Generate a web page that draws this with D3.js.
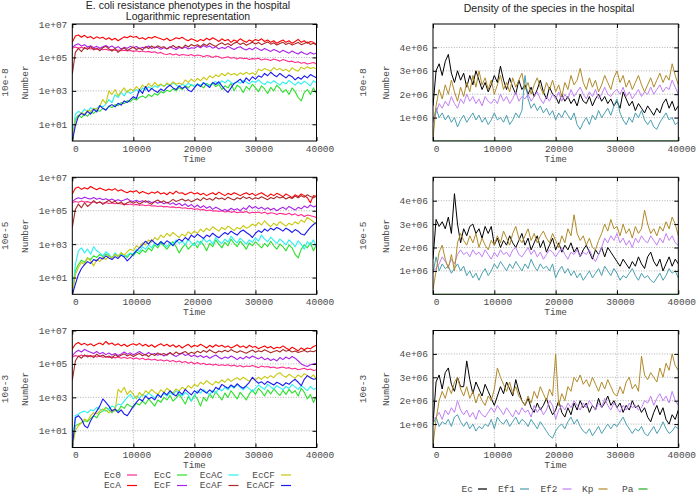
<!DOCTYPE html>
<html><head><meta charset="utf-8">
<script src="https://cdn.jsdelivr.net/npm/d3@7"></script>
<style>body{margin:0;background:#fff}svg{display:block}</style>
</head><body><svg id="c" width="696" height="494"></svg>
<script>
const time=[0,500,1000,1500,2000,2500,3000,3500,4000,4500,5000,5500,6000,6500,7000,7500,8000,8500,9000,9500,
10000,10500,11000,11500,12000,12500,13000,13500,14000,14500,15000,15500,16000,16500,17000,17500,18000,18500,19000,19500,
20000,20500,21000,21500,22000,22500,23000,23500,24000,24500,25000,25500,26000,26500,27000,27500,28000,28500,29000,29500,
30000,30500,31000,31500,32000,32500,33000,33500,34000,34500,35000,35500,36000,36500,37000,37500,38000,38500,39000,39500,40000];

const xTickVals=[0,10000,20000,30000,40000];
const xTickLabels=['0','10000','20000','30000','40000'];
const logTickVals=[1e1,1e3,1e5,1e7];
const logTickLabels=['1e+01','1e+03','1e+05','1e+07'];
const linTickVals=[1e6,2e6,3e6,4e6];
const linTickLabels=['1e+06','2e+06','3e+06','4e+06'];
const rowLabels=['10e-8','10e-5','10e-3'];
const leftNames=['Ec0','EcA','EcC','EcF','EcAC','EcAF','EcCF','EcACF'];
const leftColors=['#ff2a8c','#ff0000','#2be02b','#a822e8','#2af0f0','#a82a2a','#c8c810','#1a1af0'];
const rightNames=['Ec','Ef1','Ef2','Kp','Pa'];
const rightColors=['#000000','#4a9fb0','#c27ff5','#b08a2a','#22aa22'];

// ---------- 10e-8 : E. coli phenotypes ----------
const ec0_8=[3.5e5,4.2e5,3.6e5,4.0e5,3.3e5,3.8e5,3.2e5,3.5e5,3.0e5,3.3e5,
2.9e5,3.1e5,2.7e5,3.0e5,2.6e5,2.8e5,2.5e5,2.7e5,2.4e5,2.6e5,
2.3e5,2.5e5,2.2e5,2.4e5,2.1e5,2.3e5,2.0e5,2.2e5,1.8e5,2.0e5,
1.6e5,1.5e5,1.7e5,1.4e5,1.6e5,1.3e5,1.5e5,1.4e5,1.3e5,1.5e5,
1.2e5,1.4e5,1.3e5,1.1e5,1.3e5,1.2e5,1.0e5,1.2e5,1.1e5,9e4,
1.0e5,1.1e5,9e4,1.0e5,8e4,9.5e4,8.5e4,9e4,7.5e4,8.5e4,
8e4,9e4,7e4,8e4,7.5e4,6.5e4,8e4,7e4,6e4,7.5e4,
6.5e4,5.5e4,6e4,5e4,5.5e4,4.5e4,5e4,4e4,4.5e4,5e4,
4e4];
const ecA_8=[8e5,1.9e6,2.2e6,1.6e6,2.1e6,1.5e6,1.8e6,1.3e6,1.7e6,1.4e6,
1.6e6,1.2e6,1.5e6,1.1e6,1.4e6,1.0e6,1.3e6,1.7e6,1.5e6,1.9e6,
1.6e6,1.8e6,1.3e6,1.5e6,1.2e6,1.6e6,1.4e6,1.8e6,1.5e6,1.3e6,
1.1e6,1.4e6,1.0e6,1.2e6,1.5e6,1.3e6,1.6e6,1.2e6,1.0e6,1.3e6,
1.1e6,9e5,1.2e6,1.0e6,1.4e6,1.1e6,1.5e6,1.2e6,9e5,1.3e6,
1.0e6,1.2e6,8e5,1.1e6,9e5,1.3e6,1.0e6,8e5,1.1e6,9e5,
1.2e6,1.0e6,1.3e6,9e5,1.1e6,8e5,1.0e6,7e5,9e5,1.1e6,
8e5,1.0e6,7e5,9e5,1.2e6,8e5,1.0e6,7e5,9e5,8e5,
6e5];
const ecC_8=[1,20,35,25,40,30,55,45,70,60,
90,75,120,100,150,130,200,170,260,220,
350,280,420,500,380,600,450,700,550,900,
750,1100,900,1300,1000,1600,1200,2000,1500,2400,
1800,2600,2000,1500,2800,2200,3000,1800,2500,1200,
2000,1500,2800,1000,2200,1600,800,1800,1200,2500,
1500,900,2000,1300,700,1600,1000,2200,1400,800,
1200,600,1500,900,400,250,800,1200,600,1500,
700];
const ecF_8=[4.0e5,5.5e5,6.5e5,4.8e5,5.8e5,4.2e5,5.0e5,3.8e5,4.6e5,3.5e5,
4.3e5,5.2e5,3.9e5,4.8e5,3.6e5,4.4e5,3.2e5,4.0e5,3.5e5,4.6e5,
3.8e5,4.5e5,3.3e5,4.1e5,3.7e5,4.8e5,3.4e5,4.2e5,3.9e5,3.1e5,
3.8e5,3.3e5,4.4e5,3.6e5,3.0e5,3.9e5,3.4e5,4.2e5,3.2e5,3.8e5,
3.5e5,4.6e5,3.8e5,5.2e5,4.0e5,4.8e5,3.6e5,4.4e5,3.2e5,4.0e5,
3.4e5,4.6e5,3.7e5,3.0e5,3.8e5,4.4e5,3.3e5,2.8e5,3.5e5,2.9e5,
4.0e5,3.2e5,2.6e5,3.4e5,2.8e5,2.3e5,3.0e5,2.5e5,2.0e5,2.7e5,
2.2e5,1.8e5,2.4e5,1.9e5,1.6e5,2.2e5,1.7e5,1.5e5,2.0e5,1.6e5,
1.8e5];
const ecAC_8=[1,40,60,45,80,55,100,70,90,130,
110,160,300,200,600,400,800,500,1000,700,
900,1200,800,1500,1100,1800,1300,2000,1600,2400,
1900,2600,2000,3000,2200,1700,2500,2000,2800,2300,
1800,2600,2100,3200,2400,1900,2800,3600,2500,4000,
3000,4500,3200,2500,3800,2800,4200,3400,2600,3800,
3200,4600,3000,2400,3600,2800,4000,3000,2200,3400,
2600,4200,3000,2200,3400,2500,3800,2800,2000,4000,
3000];
const ecAF_8=[1e4,2.0e5,3.5e5,2.2e5,4.0e5,3.0e5,4.5e5,2.8e5,3.6e5,2.5e5,
3.8e5,4.6e5,3.2e5,2.4e5,3.5e5,2.0e5,2.9e5,3.8e5,2.6e5,3.3e5,
4.2e5,3.0e5,3.7e5,2.8e5,4.5e5,3.4e5,4.8e5,3.6e5,5.0e5,3.9e5,
4.4e5,3.2e5,4.0e5,5.2e5,3.8e5,4.6e5,3.5e5,5.5e5,4.2e5,6.0e5,
4.8e5,5.8e5,4.4e5,6.5e5,5.0e5,7.0e5,5.5e5,4.5e5,6.2e5,7.5e5,
5.6e5,6.8e5,5.2e5,7.2e5,8.0e5,6.0e5,7.4e5,5.4e5,6.6e5,8.2e5,
6.4e5,7.8e5,5.8e5,7.0e5,8.5e5,6.2e5,7.6e5,5.5e5,6.8e5,8.0e5,
6.0e5,7.2e5,5.6e5,6.5e5,7.8e5,5.8e5,6.9e5,8.4e5,6.0e5,7.0e5,
5.5e5];
const ecCF_8=[1,15,30,50,40,70,60,90,80,120,
300,180,1000,600,1200,500,900,1500,800,1300,
1000,1800,1200,2200,1500,2800,1800,3200,2000,2600,
1800,3000,2200,3500,2500,3000,2400,4500,3200,5000,
3500,5500,4000,6500,4500,8000,6000,9000,7000,1.1e4,
8000,1.2e4,9000,1.1e4,8500,1.2e4,9500,1.3e4,1e4,1.2e4,
9000,2e4,1.6e4,2.2e4,1.8e4,1.5e4,2.5e4,1.8e4,2.2e4,1.6e4,
2e4,1.4e4,2.4e4,1.8e4,1.5e4,2.6e4,2e4,2.8e4,2.2e4,2.5e4,
2e4];
const ecACF_8=[1,8,30,45,35,60,40,80,55,130,
90,70,120,150,110,180,140,250,200,300,
450,350,1200,700,1800,900,1400,1000,800,1300,
1000,1600,2200,1500,1200,2000,1400,1800,1100,900,
1500,2500,1800,3000,2200,1600,3200,2400,3500,2000,
1200,800,1500,2800,3500,5000,3000,6000,4000,7000,
5000,8000,6500,1.1e4,8000,1.3e4,9000,7000,1.1e4,8000,
6000,9000,7000,4500,6500,5000,8000,6000,9500,7500,
6000];

// ---------- 10e-5 : E. coli phenotypes ----------
const ec0_5=[3.0e5,3.6e5,3.2e5,3.8e5,3.3e5,3.5e5,3.0e5,3.4e5,2.9e5,3.2e5,
2.8e5,3.1e5,2.7e5,2.9e5,2.6e5,2.8e5,2.5e5,2.6e5,2.3e5,2.5e5,
2.2e5,2.4e5,2.1e5,2.3e5,2.0e5,2.2e5,1.9e5,2.0e5,1.8e5,1.9e5,
1.7e5,1.8e5,1.6e5,1.7e5,1.5e5,1.6e5,1.4e5,1.5e5,1.3e5,1.4e5,
1.2e5,1.3e5,1.1e5,1.2e5,1.0e5,1.1e5,9.5e4,1.0e5,9e4,1.0e5,
8.5e4,9.5e4,8e4,9e4,7.5e4,8.5e4,8e4,9e4,7e4,8e4,
7.5e4,8.5e4,7e4,8e4,6.5e4,7.5e4,7e4,6e4,7e4,6.5e4,
6e4,7e4,5.5e4,6.5e4,5e4,6e4,4.5e4,5.5e4,5e4,4.5e4,
4e4];
const ecA_5=[1.0e6,2.2e6,2.6e6,1.9e6,2.4e6,2.0e6,2.8e6,2.2e6,1.8e6,2.3e6,
1.9e6,1.6e6,2.0e6,1.7e6,2.1e6,1.5e6,1.8e6,1.4e6,1.2e6,1.5e6,
1.3e6,1.6e6,1.1e6,1.4e6,1.2e6,1.0e6,1.3e6,1.1e6,1.4e6,1.0e6,
1.2e6,9e5,1.3e6,1.0e6,1.5e6,1.1e6,1.2e6,9e5,1.1e6,1.3e6,
1.0e6,1.2e6,9e5,1.1e6,8e5,1.0e6,1.2e6,9e5,1.3e6,1.0e6,
8e5,1.1e6,9e5,1.2e6,1.0e6,8e5,1.0e6,1.2e6,9e5,1.1e6,
8e5,1.0e6,1.2e6,9e5,7e5,1.0e6,8e5,1.1e6,9e5,7e5,
1.0e6,8e5,6e5,9e5,7e5,1.0e6,8e5,6e5,3e5,8e5,
7e5];
const ecC_5=[1,25,60,110,80,150,120,200,160,240,
180,260,200,150,250,180,300,220,160,280,
200,350,260,450,320,600,400,900,600,1200,
800,500,900,1400,700,300,600,1000,500,800,
1200,600,1500,900,400,1100,700,1800,1000,600,
1300,800,2000,1100,700,1500,900,500,1200,800,
1400,900,600,1100,700,1500,800,500,1000,700,
400,900,600,250,150,500,900,600,1200,400,
900];
const ecF_5=[3.5e5,5.0e5,6.0e5,5.2e5,6.5e5,5.5e5,5.0e5,6.2e5,4.8e5,5.6e5,
4.5e5,5.2e5,4.2e5,5.0e5,4.0e5,4.6e5,3.8e5,4.4e5,5.2e5,4.0e5,
3.6e5,4.2e5,3.4e5,4.0e5,3.2e5,3.8e5,3.0e5,3.6e5,2.8e5,3.4e5,
2.6e5,3.2e5,2.4e5,3.0e5,2.2e5,2.8e5,2.0e5,2.6e5,1.8e5,2.4e5,
1.6e5,2.2e5,1.5e5,2.0e5,1.4e5,1.8e5,1.2e5,1.6e5,1.3e5,1.0e5,
1.2e5,1.0e5,1.4e5,1.1e5,1.3e5,1.0e5,1.5e5,1.2e5,2.0e5,1.4e5,
1.8e5,1.3e5,1.6e5,1.2e5,1.5e5,1.1e5,1.4e5,1.0e5,1.3e5,1.6e5,
1.2e5,1.8e5,1.4e5,1.1e5,1.6e5,1.3e5,1.9e5,1.5e5,2.2e5,1.7e5,
2.0e5];
const ecAC_5=[1,60,400,600,300,500,250,700,400,300,
200,350,250,150,300,200,250,180,220,300,
250,500,350,700,500,900,600,1200,800,1500,
1000,700,1300,900,1800,1100,1500,900,2000,1200,
800,1600,1000,2200,1300,1800,1000,2500,1500,1100,
2000,1300,3000,1800,1200,2200,1500,1000,1800,1300,
2400,1500,3500,2000,1400,2600,1700,1100,2000,1400,
900,1800,1200,700,1600,1000,500,1400,900,1800,
600];
const ecAF_5=[1e4,1.2e5,2.5e5,1.5e5,3.0e5,1.8e5,2.6e5,4.0e5,2.8e5,3.5e5,
2.4e5,3.2e5,4.2e5,3.0e5,3.8e5,2.6e5,3.4e5,2.2e5,3.0e5,3.6e5,
2.8e5,3.5e5,2.5e5,3.2e5,4.0e5,3.0e5,2.4e5,3.6e5,4.4e5,3.2e5,
3.9e5,2.9e5,3.5e5,4.8e5,3.6e5,4.2e5,5.0e5,3.8e5,4.6e5,3.4e5,
4.2e5,5.2e5,4.0e5,6.0e5,4.6e5,5.4e5,4.2e5,6.2e5,5.0e5,5.8e5,
4.6e5,6.5e5,5.2e5,4.4e5,6.0e5,5.0e5,7.0e5,5.4e5,6.4e5,4.8e5,
6.0e5,5.2e5,6.8e5,5.5e5,4.6e5,6.2e5,5.2e5,7.2e5,5.8e5,6.6e5,
5.0e5,6.4e5,5.4e5,7.5e5,6.0e5,8.0e5,6.5e5,9.0e5,7.0e5,6.0e5,
7.5e5];
const ecCF_5=[1,15,40,80,60,150,100,50,120,90,
160,120,200,150,250,180,300,220,350,500,
400,800,600,1200,900,1800,1300,2500,1800,3500,
2500,4500,3000,5000,3500,2500,4000,3000,5500,4000,
6000,4500,8000,5500,9000,6500,1.1e4,8000,6000,1e4,
7500,1.2e4,9000,6500,1e4,8000,1.3e4,9000,1.1e4,1.6e4,
1.2e4,2e4,1.4e4,2.5e4,1.6e4,1.1e4,1.8e4,1.3e4,2.2e4,1.6e4,
1.2e4,1.8e4,1.4e4,2.2e4,1.6e4,2.8e4,2e4,4e4,3e4,2.2e4,
1.5e4];
const ecACF_5=[1,4,15,35,60,90,70,120,100,160,
130,200,150,120,180,140,220,170,100,150,
250,400,600,900,1500,1000,1800,1200,900,1400,
1000,1600,1200,800,1400,2000,1500,2500,1800,3500,
2500,4000,3000,2200,3500,2800,4500,3200,2400,3600,
5000,3800,6000,4500,3500,5500,7000,5000,3800,2500,
4500,6500,5000,8000,6000,9000,7000,1e4,8000,6000,
9000,7000,5000,7500,6000,4000,3500,6000,1e4,1.5e4,
2e4];

// ---------- 10e-3 : E. coli phenotypes ----------
const ec0_3=[2.5e5,3.2e5,2.8e5,3.4e5,2.9e5,3.3e5,2.7e5,3.1e5,2.6e5,3.0e5,
2.5e5,2.8e5,2.4e5,2.7e5,2.3e5,2.6e5,2.2e5,2.5e5,2.1e5,2.4e5,
2.0e5,2.3e5,1.9e5,2.2e5,1.8e5,2.0e5,1.7e5,1.9e5,1.6e5,1.8e5,
1.5e5,1.7e5,1.4e5,1.6e5,1.3e5,1.5e5,1.2e5,1.4e5,1.1e5,1.3e5,
1.0e5,1.2e5,9.5e4,1.1e5,9e4,1.0e5,8.5e4,9.5e4,8e4,9e4,
8e4,9e4,7.5e4,8.5e4,7e4,8e4,6.5e4,7.5e4,7e4,8e4,
7e4,6e4,7.5e4,6.5e4,7e4,6e4,6.5e4,5.5e4,6e4,6.5e4,
5.5e4,6e4,5e4,5.5e4,4.5e4,5e4,5.5e4,4.5e4,5e4,4e4,
4.5e4];
const ecA_3=[8e5,1.5e6,1.9e6,1.4e6,1.7e6,1.3e6,1.6e6,1.2e6,1.5e6,1.8e6,
1.4e6,2.2e6,1.5e6,1.8e6,1.3e6,1.6e6,1.2e6,1.5e6,1.1e6,1.4e6,
1.6e6,1.3e6,1.7e6,1.2e6,1.5e6,1.1e6,1.4e6,1.0e6,1.3e6,1.6e6,
1.2e6,1.5e6,1.1e6,1.4e6,1.0e6,1.3e6,9e5,1.2e6,1.5e6,1.0e6,
1.3e6,1.1e6,1.5e6,1.2e6,9e5,1.3e6,1.0e6,1.4e6,1.1e6,1.3e6,
1.0e6,1.2e6,9e5,1.1e6,1.4e6,1.0e6,1.2e6,9e5,1.3e6,1.0e6,
1.1e6,8e5,1.0e6,1.2e6,9e5,1.1e6,8e5,1.0e6,9e5,1.2e6,
9e5,7e5,1.0e6,8e5,6e5,9e5,7e5,9e5,8e5,1.1e6,
1.3e6];
const ecC_3=[1,20,25,30,40,35,55,80,60,120,
150,250,180,120,200,150,300,220,400,300,
250,450,350,600,400,800,500,300,700,500,
1000,700,1300,600,900,1500,800,400,1100,600,
1400,800,300,1000,600,1600,900,2200,1200,700,
1800,1000,2500,1400,800,2000,1200,700,1600,2800,
1500,3500,2200,1200,2800,1600,3200,2000,1300,2600,
1500,3000,1800,2500,1200,3500,2000,800,1500,500,
1200];
const ecF_3=[3.0e5,5.0e5,6.5e5,5.2e5,7.5e5,6.0e5,5.0e5,4.2e5,5.5e5,4.0e5,
4.8e5,3.6e5,4.5e5,3.4e5,4.2e5,3.2e5,4.0e5,5.2e5,3.8e5,4.6e5,
3.5e5,4.4e5,5.5e5,4.2e5,3.4e5,4.8e5,3.6e5,4.2e5,3.3e5,4.0e5,
3.0e5,3.8e5,4.6e5,3.4e5,2.8e5,3.6e5,4.4e5,3.2e5,3.8e5,2.8e5,
3.4e5,2.6e5,3.2e5,2.4e5,3.0e5,2.2e5,2.8e5,3.4e5,2.5e5,2.0e5,
2.6e5,2.2e5,3.0e5,2.4e5,1.8e5,2.5e5,2.0e5,2.8e5,2.2e5,3.0e5,
2.4e5,2.0e5,2.6e5,1.8e5,2.2e5,1.6e5,2.0e5,1.5e5,2.4e5,1.8e5,
2.6e5,2.0e5,2.8e5,2.2e5,1.5e5,1.0e5,8e4,7e4,9e4,1.0e5,
1.1e5];
const ecAC_3=[1,80,100,130,150,120,180,160,250,200,
180,150,200,300,250,400,350,600,1000,1500,
800,1200,900,1500,1100,1800,1300,900,1500,1100,
1700,1200,2000,1400,2500,1600,1200,2000,1400,600,
1200,2500,1800,3000,2000,1400,2600,1800,3500,2400,
4000,2800,5000,3500,6000,4000,2800,4500,3200,2200,
3500,5500,4000,3000,6000,4200,3200,5000,3800,2800,
4500,3400,6000,4200,3000,5000,3600,2500,4500,3000,
3500];
const ecAF_3=[1e4,1.5e5,3.0e5,2.2e5,3.5e5,2.6e5,3.2e5,2.4e5,3.8e5,2.8e5,
3.4e5,2.5e5,3.0e5,2.2e5,3.6e5,2.7e5,3.3e5,4.0e5,3.0e5,3.7e5,
2.8e5,3.5e5,4.2e5,3.1e5,3.8e5,2.7e5,4.0e5,3.2e5,4.6e5,3.5e5,
4.2e5,3.3e5,4.8e5,3.6e5,5.2e5,3.9e5,4.6e5,5.5e5,4.0e5,5.0e5,
4.2e5,5.8e5,4.6e5,6.4e5,5.0e5,7.0e5,5.4e5,4.5e5,6.0e5,5.2e5,
6.6e5,5.4e5,7.2e5,5.8e5,4.8e5,6.2e5,5.2e5,4.4e5,5.6e5,6.8e5,
5.0e5,6.2e5,5.4e5,7.0e5,5.8e5,4.6e5,5.5e5,6.4e5,5.2e5,7.2e5,
5.8e5,6.6e5,5.2e5,6.0e5,4.8e5,5.6e5,6.4e5,5.2e5,6.0e5,5.4e5,
6.5e5];
const ecCF_3=[1,10,20,30,50,40,80,120,100,150,
200,170,120,180,150,3000,2000,4000,1500,2500,
1500,800,2000,1200,2500,1800,3000,2000,1500,2800,
2000,3500,2500,1800,3200,2400,4000,3000,5000,3500,
6000,4500,8000,6000,1e4,7000,5500,9000,7000,1.1e4,
8000,1.3e4,9000,1.2e4,1.5e4,1.1e4,1.6e4,1.2e4,9000,1.4e4,
1.1e4,1.6e4,1.2e4,1.8e4,1.4e4,2e4,1.5e4,2.5e4,3e4,2e4,
1.6e4,2.4e4,1.8e4,1.4e4,2.2e4,1.6e4,2.6e4,2e4,1.5e4,2.2e4,
1.2e4];
const ecACF_3=[1,60,80,50,20,15,40,80,150,300,
800,500,300,150,200,120,180,100,80,150,
300,500,800,600,1200,800,1000,700,1500,1000,
2000,1400,2500,1600,1200,2200,1500,3000,2000,1400,
2500,1800,3200,2400,1800,2800,2000,4000,3000,6000,
4500,3500,5500,4000,6500,4500,3500,5000,8000,1.6e4,
1e4,7000,8500,6000,9000,7000,5500,8000,6500,5000,
7500,6000,9000,1.2e4,8000,5000,1.2e4,2e4,1.5e4,1.2e4,
1.3e4];

// ---------- species densities ----------
const ec_8=[1.5e6,3.0e6,3.3e6,2.8e6,3.4e6,3.7e6,2.9e6,2.5e6,3.0e6,2.6e6,
2.9e6,2.3e6,2.8e6,2.4e6,3.0e6,2.6e6,2.2e6,2.5e6,2.1e6,2.4e6,
2.8e6,2.5e6,3.2e6,2.6e6,2.2e6,2.7e6,2.3e6,2.0e6,2.6e6,2.2e6,
2.4e6,2.0e6,2.3e6,1.9e6,2.2e6,2.6e6,2.1e6,1.8e6,2.3e6,2.0e6,
1.9e6,1.6e6,2.0e6,1.7e6,1.9e6,1.6e6,1.8e6,1.5e6,2.0e6,1.7e6,
1.6e6,1.9e6,1.5e6,1.8e6,2.0e6,1.7e6,1.9e6,1.6e6,1.8e6,1.5e6,
1.7e6,1.4e6,2.1e6,1.8e6,1.5e6,1.7e6,1.3e6,1.6e6,1.4e6,1.2e6,
1.5e6,1.3e6,1.1e6,1.4e6,1.2e6,1.6e6,1.8e6,1.4e6,1.7e6,1.3e6,
1.5e6];
const ef1_8=[8e5,1.4e6,1.0e6,1.2e6,9e5,1.1e6,8e5,1.0e6,6e5,9e5,
1.1e6,8e5,1.0e6,1.2e6,9e5,1.1e6,8e5,1.0e6,7e5,9e5,
1.2e6,9e5,1.0e6,8e5,1.1e6,7e5,9e5,1.2e6,1.0e6,1.3e6,
2.8e6,1.8e6,1.4e6,1.6e6,1.3e6,1.5e6,1.2e6,1.4e6,1.1e6,1.3e6,
9e5,1.2e6,1.0e6,1.3e6,1.1e6,9e5,1.2e6,7e5,5e5,8e5,
1.0e6,7e5,1.1e6,9e5,1.3e6,1.0e6,1.2e6,1.4e6,1.1e6,1.5e6,
1.8e6,1.2e6,9e5,7e5,1.0e6,8e5,1.2e6,1.0e6,1.3e6,9e5,
7e5,9e5,6e5,5e5,8e5,1.0e6,1.2e6,9e5,1.0e6,7e5,
8e5];
const ef2_8=[8e5,1.2e6,1.6e6,1.4e6,1.7e6,1.5e6,1.9e6,1.6e6,1.4e6,1.8e6,
1.6e6,2.0e6,1.7e6,1.9e6,1.6e6,1.8e6,1.5e6,1.9e6,1.7e6,1.6e6,
1.8e6,1.6e6,2.0e6,1.7e6,1.9e6,1.6e6,1.8e6,2.1e6,1.7e6,1.9e6,
1.8e6,2.0e6,1.7e6,1.9e6,2.1e6,1.8e6,1.6e6,1.9e6,1.7e6,2.0e6,
1.8e6,2.1e6,1.7e6,2.0e6,1.8e6,2.2e6,1.9e6,2.1e6,2.3e6,2.0e6,
1.8e6,2.1e6,1.9e6,2.2e6,1.8e6,2.0e6,2.3e6,2.0e6,1.9e6,2.1e6,
2.2e6,2.0e6,2.3e6,1.9e6,2.1e6,1.8e6,2.0e6,2.2e6,1.9e6,2.1e6,
2.0e6,2.3e6,2.0e6,2.2e6,2.4e6,2.1e6,2.3e6,2.2e6,2.6e6,2.3e6,
2.0e6];
const kp_8=[1e5,1.5e6,2.2e6,1.8e6,2.4e6,2.0e6,2.6e6,2.1e6,1.7e6,2.3e6,
1.9e6,2.5e6,2.1e6,2.8e6,2.3e6,3.0e6,2.4e6,2.7e6,2.2e6,2.6e6,
2.0e6,2.4e6,2.8e6,2.2e6,2.5e6,2.1e6,2.7e6,2.3e6,2.6e6,2.9e6,
2.2e6,2.5e6,2.0e6,2.4e6,2.7e6,2.3e6,2.0e6,2.5e6,2.2e6,2.6e6,
2.1e6,2.4e6,1.9e6,2.5e6,2.2e6,2.8e6,2.4e6,2.6e6,3.1e6,2.5e6,
2.2e6,2.7e6,2.3e6,2.6e6,2.1e6,2.4e6,2.8e6,2.5e6,2.2e6,2.7e6,
3.0e6,2.5e6,2.8e6,2.3e6,2.6e6,2.2e6,2.5e6,2.8e6,2.4e6,2.1e6,
2.4e6,2.7e6,2.3e6,2.6e6,2.9e6,2.5e6,2.8e6,2.6e6,3.3e6,2.8e6,
2.4e6];
const pa_8=[0,0,0,0,0,0,0,0,0,0,0,0,0,0,0,0,0,0,0,0,0,0,0,0,0,0,0,0,0,0,0,0,0,0,0,0,0,0,0,0,
0,0,0,0,0,0,0,0,0,0,0,0,0,0,0,0,0,0,0,0,0,0,0,0,0,0,0,0,0,0,0,0,0,0,0,0,0,0,0,0,0];

const ec_5=[1.5e6,3.2e6,2.9e6,3.1e6,2.8e6,3.3e6,2.6e6,4.3e6,3.0e6,2.2e6,
2.8e6,2.5e6,2.9e6,3.0e6,2.6e6,2.8e6,2.4e6,2.9e6,2.6e6,2.9e6,
2.1e6,2.4e6,2.0e6,2.3e6,2.1e6,2.5e6,2.2e6,2.0e6,2.3e6,2.6e6,
2.1e6,2.4e6,1.9e6,2.2e6,2.5e6,2.0e6,2.3e6,1.8e6,2.1e6,2.4e6,
1.9e6,2.2e6,1.8e6,2.1e6,1.9e6,2.2e6,1.8e6,2.0e6,1.6e6,1.9e6,
2.1e6,1.8e6,1.5e6,1.9e6,1.7e6,2.0e6,1.6e6,2.0e6,1.8e6,1.6e6,
1.4e6,1.2e6,1.5e6,1.3e6,1.1e6,1.4e6,1.2e6,1.6e6,1.3e6,1.1e6,
1.6e6,1.8e6,1.4e6,1.2e6,1.5e6,1.0e6,1.3e6,1.6e6,1.2e6,1.5e6,
1.3e6];
const ef1_5=[9e5,1.6e6,1.0e6,1.3e6,1.1e6,1.2e6,9e5,1.1e6,1.3e6,1.0e6,
1.2e6,8e5,1.0e6,7e5,9e5,6e5,9e5,1.1e6,8e5,1.0e6,
1.3e6,1.1e6,1.4e6,1.2e6,1.0e6,1.3e6,1.1e6,1.4e6,1.2e6,1.0e6,
1.3e6,1.1e6,1.5e6,1.2e6,1.0e6,1.3e6,1.1e6,1.2e6,1.0e6,1.3e6,
7e5,1.0e6,1.2e6,9e5,1.1e6,8e5,1.0e6,7e5,9e5,6e5,
8e5,1.0e6,7e5,9e5,1.1e6,8e5,1.2e6,1.0e6,8e5,1.1e6,
9e5,6e5,8e5,7e5,9e5,1.1e6,8e5,6e5,9e5,7e5,
8e5,6e5,5e5,7e5,9e5,6e5,8e5,1.1e6,9e5,1.0e6,
7e5];
const ef2_5=[1.0e6,1.1e6,1.3e6,1.6e6,1.4e6,1.2e6,1.5e6,1.3e6,1.7e6,1.9e6,
1.7e6,1.8e6,1.6e6,1.9e6,1.7e6,1.8e6,1.6e6,1.9e6,1.7e6,1.5e6,
1.8e6,1.6e6,1.9e6,1.7e6,1.8e6,1.6e6,1.9e6,2.0e6,1.7e6,1.6e6,
1.8e6,2.0e6,1.7e6,1.9e6,1.6e6,1.8e6,1.5e6,1.7e6,1.9e6,1.8e6,
1.6e6,1.8e6,2.0e6,1.7e6,1.5e6,1.8e6,1.7e6,1.9e6,1.6e6,1.8e6,
1.7e6,1.9e6,1.6e6,1.4e6,1.7e6,2.0e6,2.4e6,2.2e6,2.5e6,2.3e6,
2.6e6,2.2e6,2.4e6,2.1e6,2.3e6,2.0e6,2.4e6,2.2e6,2.5e6,2.3e6,
2.2e6,2.5e6,2.3e6,2.1e6,2.4e6,2.2e6,2.6e6,2.3e6,2.5e6,2.2e6,
2.1e6];
const kp_5=[2e5,1.0e6,1.8e6,2.1e6,1.5e6,1.1e6,1.7e6,1.0e6,2.2e6,2.6e6,
2.3e6,2.1e6,2.5e6,2.2e6,2.6e6,2.0e6,2.4e6,2.1e6,1.9e6,2.3e6,
2.1e6,2.5e6,2.2e6,2.7e6,2.4e6,2.1e6,2.6e6,2.9e6,2.4e6,2.2e6,
2.5e6,2.8e6,2.3e6,2.6e6,2.2e6,2.5e6,2.7e6,2.4e6,2.2e6,2.6e6,
2.3e6,2.0e6,2.5e6,2.2e6,2.8e6,2.5e6,3.4e6,2.6e6,2.3e6,2.5e6,
2.1e6,2.4e6,2.0e6,1.9e6,2.3e6,2.6e6,3.0e6,2.7e6,3.2e6,2.8e6,
2.9e6,2.5e6,3.0e6,2.6e6,2.8e6,2.4e6,2.9e6,2.6e6,2.8e6,3.6e6,
3.0e6,2.6e6,2.8e6,2.5e6,2.9e6,2.7e6,3.1e6,2.8e6,3.3e6,3.0e6,
2.5e6];
const pa_5=[0,0,0,0,0,0,0,0,0,0,0,0,0,0,0,0,0,0,0,0,0,0,0,0,0,0,0,0,0,0,0,0,0,0,0,0,0,0,0,0,
0,0,0,0,0,0,0,0,0,0,0,0,0,0,0,0,0,0,0,0,0,0,0,0,0,0,0,0,0,0,0,0,0,0,0,0,0,0,0,0,0];

const ec_3=[1.0e6,2.8e6,3.1e6,2.5e6,3.2e6,3.4e6,2.7e6,2.4e6,3.0e6,2.6e6,
2.6e6,3.7e6,2.9e6,2.3e6,2.8e6,2.5e6,2.2e6,2.7e6,2.4e6,2.1e6,
1.8e6,2.2e6,2.6e6,2.3e6,2.8e6,2.5e6,2.2e6,2.9e6,2.4e6,2.0e6,
1.8e6,2.1e6,1.7e6,1.5e6,1.9e6,1.6e6,1.8e6,2.1e6,1.7e6,1.4e6,
1.6e6,2.0e6,1.5e6,1.3e6,1.7e6,1.4e6,1.9e6,1.6e6,2.0e6,1.7e6,
1.9e6,1.5e6,1.8e6,1.6e6,2.1e6,1.7e6,1.9e6,2.2e6,1.8e6,2.0e6,
1.7e6,1.9e6,1.5e6,1.8e6,1.6e6,2.0e6,1.7e6,1.8e6,1.5e6,1.7e6,
1.3e6,1.1e6,1.5e6,1.8e6,1.4e6,1.7e6,1.2e6,1.0e6,1.4e6,1.2e6,
1.6e6];
const ef1_3=[1.0e6,1.3e6,9e5,1.1e6,1.0e6,1.2e6,9e5,1.3e6,1.4e6,1.1e6,
9e5,1.1e6,8e5,1.0e6,7e5,9e5,8e5,1.0e6,9e5,1.2e6,
8e5,1.3e6,1.1e6,1.0e6,1.2e6,9e5,1.1e6,1.3e6,1.0e6,1.2e6,
1.1e6,9e5,1.2e6,1.0e6,8e5,1.1e6,9e5,7e5,5e5,4e5,
7e5,9e5,1.0e6,8e5,1.1e6,1.3e6,1.0e6,1.2e6,9e5,7e5,
6e5,8e5,5e5,7e5,9e5,6e5,8e5,1.0e6,8e5,1.0e6,
9e5,1.1e6,1.3e6,1.0e6,8e5,6e5,8e5,7e5,9e5,6e5,
5e5,7e5,9e5,6e5,8e5,1.1e6,8e5,6e5,7e5,9e5,
8e5];
const ef2_3=[1.2e6,1.3e6,1.5e6,1.2e6,1.6e6,1.4e6,1.7e6,1.5e6,2.0e6,1.6e6,
1.4e6,1.6e6,1.3e6,1.5e6,1.2e6,1.6e6,1.4e6,1.3e6,1.5e6,1.7e6,
1.5e6,1.8e6,1.6e6,1.4e6,1.7e6,1.5e6,1.3e6,1.6e6,1.4e6,1.7e6,
1.5e6,1.6e6,1.3e6,1.8e6,1.5e6,1.7e6,1.4e6,1.6e6,2.0e6,1.8e6,
1.2e6,1.6e6,1.8e6,1.6e6,1.9e6,1.7e6,2.0e6,1.8e6,1.6e6,1.9e6,
1.7e6,2.0e6,1.8e6,1.6e6,1.9e6,1.7e6,2.1e6,1.8e6,1.6e6,1.9e6,
1.7e6,1.5e6,1.8e6,1.6e6,1.9e6,1.7e6,1.8e6,1.6e6,1.7e6,2.0e6,
1.9e6,2.2e6,1.8e6,2.1e6,2.3e6,2.0e6,2.2e6,1.9e6,2.4e6,2.0e6,
1.8e6];
const kp_3=[1e5,1.2e6,2.0e6,2.4e6,2.1e6,2.6e6,2.3e6,2.8e6,3.0e6,2.5e6,
2.2e6,2.6e6,2.1e6,2.4e6,1.9e6,2.3e6,2.0e6,1.8e6,2.2e6,2.0e6,
2.5e6,3.4e6,3.0e6,2.7e6,2.4e6,2.8e6,2.3e6,2.6e6,2.2e6,2.0e6,
1.8e6,2.2e6,1.9e6,2.4e6,2.1e6,2.6e6,2.3e6,2.0e6,2.5e6,2.2e6,
4.0e6,1.8e6,2.3e6,2.0e6,2.6e6,2.4e6,3.0e6,2.8e6,3.1e6,2.7e6,
2.9e6,2.6e6,3.0e6,2.7e6,2.4e6,2.8e6,2.5e6,2.9e6,2.6e6,2.3e6,
2.2e6,2.6e6,2.3e6,2.8e6,3.0e6,2.5e6,2.7e6,2.4e6,3.9e6,3.1e6,
2.9e6,3.2e6,3.0e6,2.8e6,3.4e6,3.0e6,3.6e6,3.3e6,4.0e6,3.5e6,
3.3e6];
const pa_3=[0,0,0,0,0,0,0,0,0,0,0,0,0,0,0,0,0,0,0,0,0,0,0,0,0,0,0,0,0,0,0,0,0,0,0,0,0,0,0,0,
0,0,0,0,0,0,0,0,0,0,0,0,0,0,0,0,0,0,0,0,0,0,0,0,0,0,0,0,0,0,0,0,0,0,0,0,0,0,0,0,0];

const leftPanels=[
  [ec0_8,ecA_8,ecC_8,ecF_8,ecAC_8,ecAF_8,ecCF_8,ecACF_8],
  [ec0_5,ecA_5,ecC_5,ecF_5,ecAC_5,ecAF_5,ecCF_5,ecACF_5],
  [ec0_3,ecA_3,ecC_3,ecF_3,ecAC_3,ecAF_3,ecCF_3,ecACF_3]];
const rightPanels=[
  [ec_8,ef1_8,ef2_8,kp_8,pa_8],
  [ec_5,ef1_5,ef2_5,kp_5,pa_5],
  [ec_3,ef1_3,ef2_3,kp_3,pa_3]];

// ---------- drawing ----------
const svg=d3.select('#c');
svg.append('rect').attr('width',696).attr('height',494).attr('fill','#fff');
const mono="'Liberation Mono','DejaVu Sans Mono',monospace";
const sans="'Liberation Sans',Arial,sans-serif";
const txtCol='#4a4a4a';
const tops=[24,177.3,330.5], pH=117;
let clipN=0;

function panel(x0,x1,y0,isLog,series,colors,lw,tVals,tLabels,rowLabel,rowX,numX){
  const y1=y0+pH;
  const x=d3.scaleLinear().domain([0,40000]).range([x0,x1]);
  const y=isLog?d3.scaleLog().domain([1,1e7]).range([y1,y0]):d3.scaleLinear().domain([0,5e6]).range([y1,y0]);
  const g=svg.append('g');
  const grid=g.append('g').attr('stroke','#9a9a9a').attr('stroke-width',0.8).attr('stroke-dasharray','1,1.6');
  grid.selectAll('.gx').data(xTickVals.slice(1,-1)).join('line')
    .attr('x1',d=>x(d)).attr('x2',d=>x(d)).attr('y1',y0).attr('y2',y1);
  grid.selectAll('.gy').data(tVals.filter(v=>y(v)>y0+1)).join('line')
    .attr('y1',d=>y(d)).attr('y2',d=>y(d)).attr('x1',x0).attr('x2',x1);
  const id='clip'+(clipN++);
  svg.append('clipPath').attr('id',id).append('rect').attr('x',x0).attr('y',y0).attr('width',x1-x0).attr('height',y1-y0);
  const line=d3.line().x((d,i)=>x(time[i])).y(d=>y(d));
  g.append('g').attr('clip-path',`url(#${id})`).selectAll('path').data(series).join('path')
    .attr('d',line).attr('fill','none').attr('stroke',(d,i)=>colors[i]).attr('stroke-width',lw).attr('stroke-linejoin','round');
  const styleAx=a=>{a.select('.domain').remove();a.selectAll('line').attr('stroke','#000');
    a.selectAll('text').attr('font-family',mono).attr('font-size','9.5px').attr('fill',txtCol);};
  g.append('g').attr('transform',`translate(0,${y1})`)
    .call(d3.axisBottom(x).tickValues(xTickVals).tickFormat((d,i)=>xTickLabels[i]).tickSize(-4).tickPadding(4))
    .call(styleAx).call(a=>a.selectAll('text').attr('x',3));
  g.append('g').attr('transform',`translate(0,${y0})`)
    .call(d3.axisTop(x).tickValues(xTickVals).tickFormat('').tickSize(-4)).call(styleAx);
  g.append('g').attr('transform',`translate(${x0},0)`)
    .call(d3.axisLeft(y).tickValues(tVals).tickFormat((d,i)=>tLabels[i]).tickSize(-4).tickPadding(5)).call(styleAx);
  g.append('g').attr('transform',`translate(${x1},0)`)
    .call(d3.axisRight(y).tickValues(tVals).tickFormat('').tickSize(-4)).call(styleAx);
  g.append('rect').attr('x',x0).attr('y',y0).attr('width',x1-x0).attr('height',y1-y0)
    .attr('fill','none').attr('stroke','#000').attr('stroke-width',1);
  const mid=(y0+y1)/2;
  g.append('text').attr('transform',`translate(${numX},${mid}) rotate(-90)`).attr('text-anchor','middle')
    .attr('dominant-baseline','central').attr('font-family',mono).attr('font-size','9.5px').attr('fill',txtCol).text('Number');
  g.append('text').attr('transform',`translate(${rowX},${mid}) rotate(-90)`).attr('text-anchor','middle')
    .attr('dominant-baseline','central').attr('font-family',mono).attr('font-size','9.5px').attr('fill',txtCol).text(rowLabel);
  g.append('text').attr('x',(x0+x1)/2).attr('y',y1+18).attr('text-anchor','middle').attr('dominant-baseline','central')
    .attr('font-family',mono).attr('font-size','9.5px').attr('fill',txtCol).text('Time');
}

for(let r=0;r<3;r++){
  panel(72.3,316.5,tops[r],true,leftPanels[r],leftColors,1.1,logTickVals,logTickLabels,rowLabels[r],5,25);
  panel(433,678.3,tops[r],false,rightPanels[r],rightColors,1,linTickVals,linTickLabels,rowLabels[r],363,386);
}

// titles
svg.append('text').attr('x',188).attr('y',9).attr('text-anchor','middle').attr('font-family',sans).attr('font-size','10.5px').attr('fill','#222')
  .text('E. coli resistance phenotypes in the hospital');
svg.append('text').attr('x',188).attr('y',19.5).attr('text-anchor','middle').attr('font-family',sans).attr('font-size','10.5px').attr('fill','#222')
  .text('Logarithmic representation');
svg.append('text').attr('x',549).attr('y',12).attr('text-anchor','middle').attr('font-family',sans).attr('font-size','10.5px').attr('fill','#222')
  .text('Density of the species in the hospital');

// legends
const leftColEnd=[121,171,222.5,275], leftRowY=[475,485.5];
leftNames.forEach((n,k)=>{
  const c=Math.floor(k/2), r=k%2, xe=leftColEnd[c], yy=leftRowY[r];
  svg.append('text').attr('x',xe).attr('y',yy).attr('text-anchor','end').attr('dominant-baseline','central')
    .attr('font-family',mono).attr('font-size','9.5px').attr('fill',txtCol).text(n);
  svg.append('line').attr('x1',xe+6).attr('x2',xe+16).attr('y1',yy).attr('y2',yy).attr('stroke',leftColors[k]).attr('stroke-width',1.2);
});
const rightEnd=[473,515,557.5,593.5,633.5];
rightNames.forEach((n,k)=>{
  const xe=rightEnd[k], yy=489;
  svg.append('text').attr('x',xe).attr('y',yy).attr('text-anchor','end').attr('dominant-baseline','central')
    .attr('font-family',mono).attr('font-size','9.5px').attr('fill',txtCol).text(n);
  svg.append('line').attr('x1',xe+5).attr('x2',xe+14).attr('y1',yy).attr('y2',yy).attr('stroke',rightColors[k]).attr('stroke-width',1.2);
});
</script></body></html>
